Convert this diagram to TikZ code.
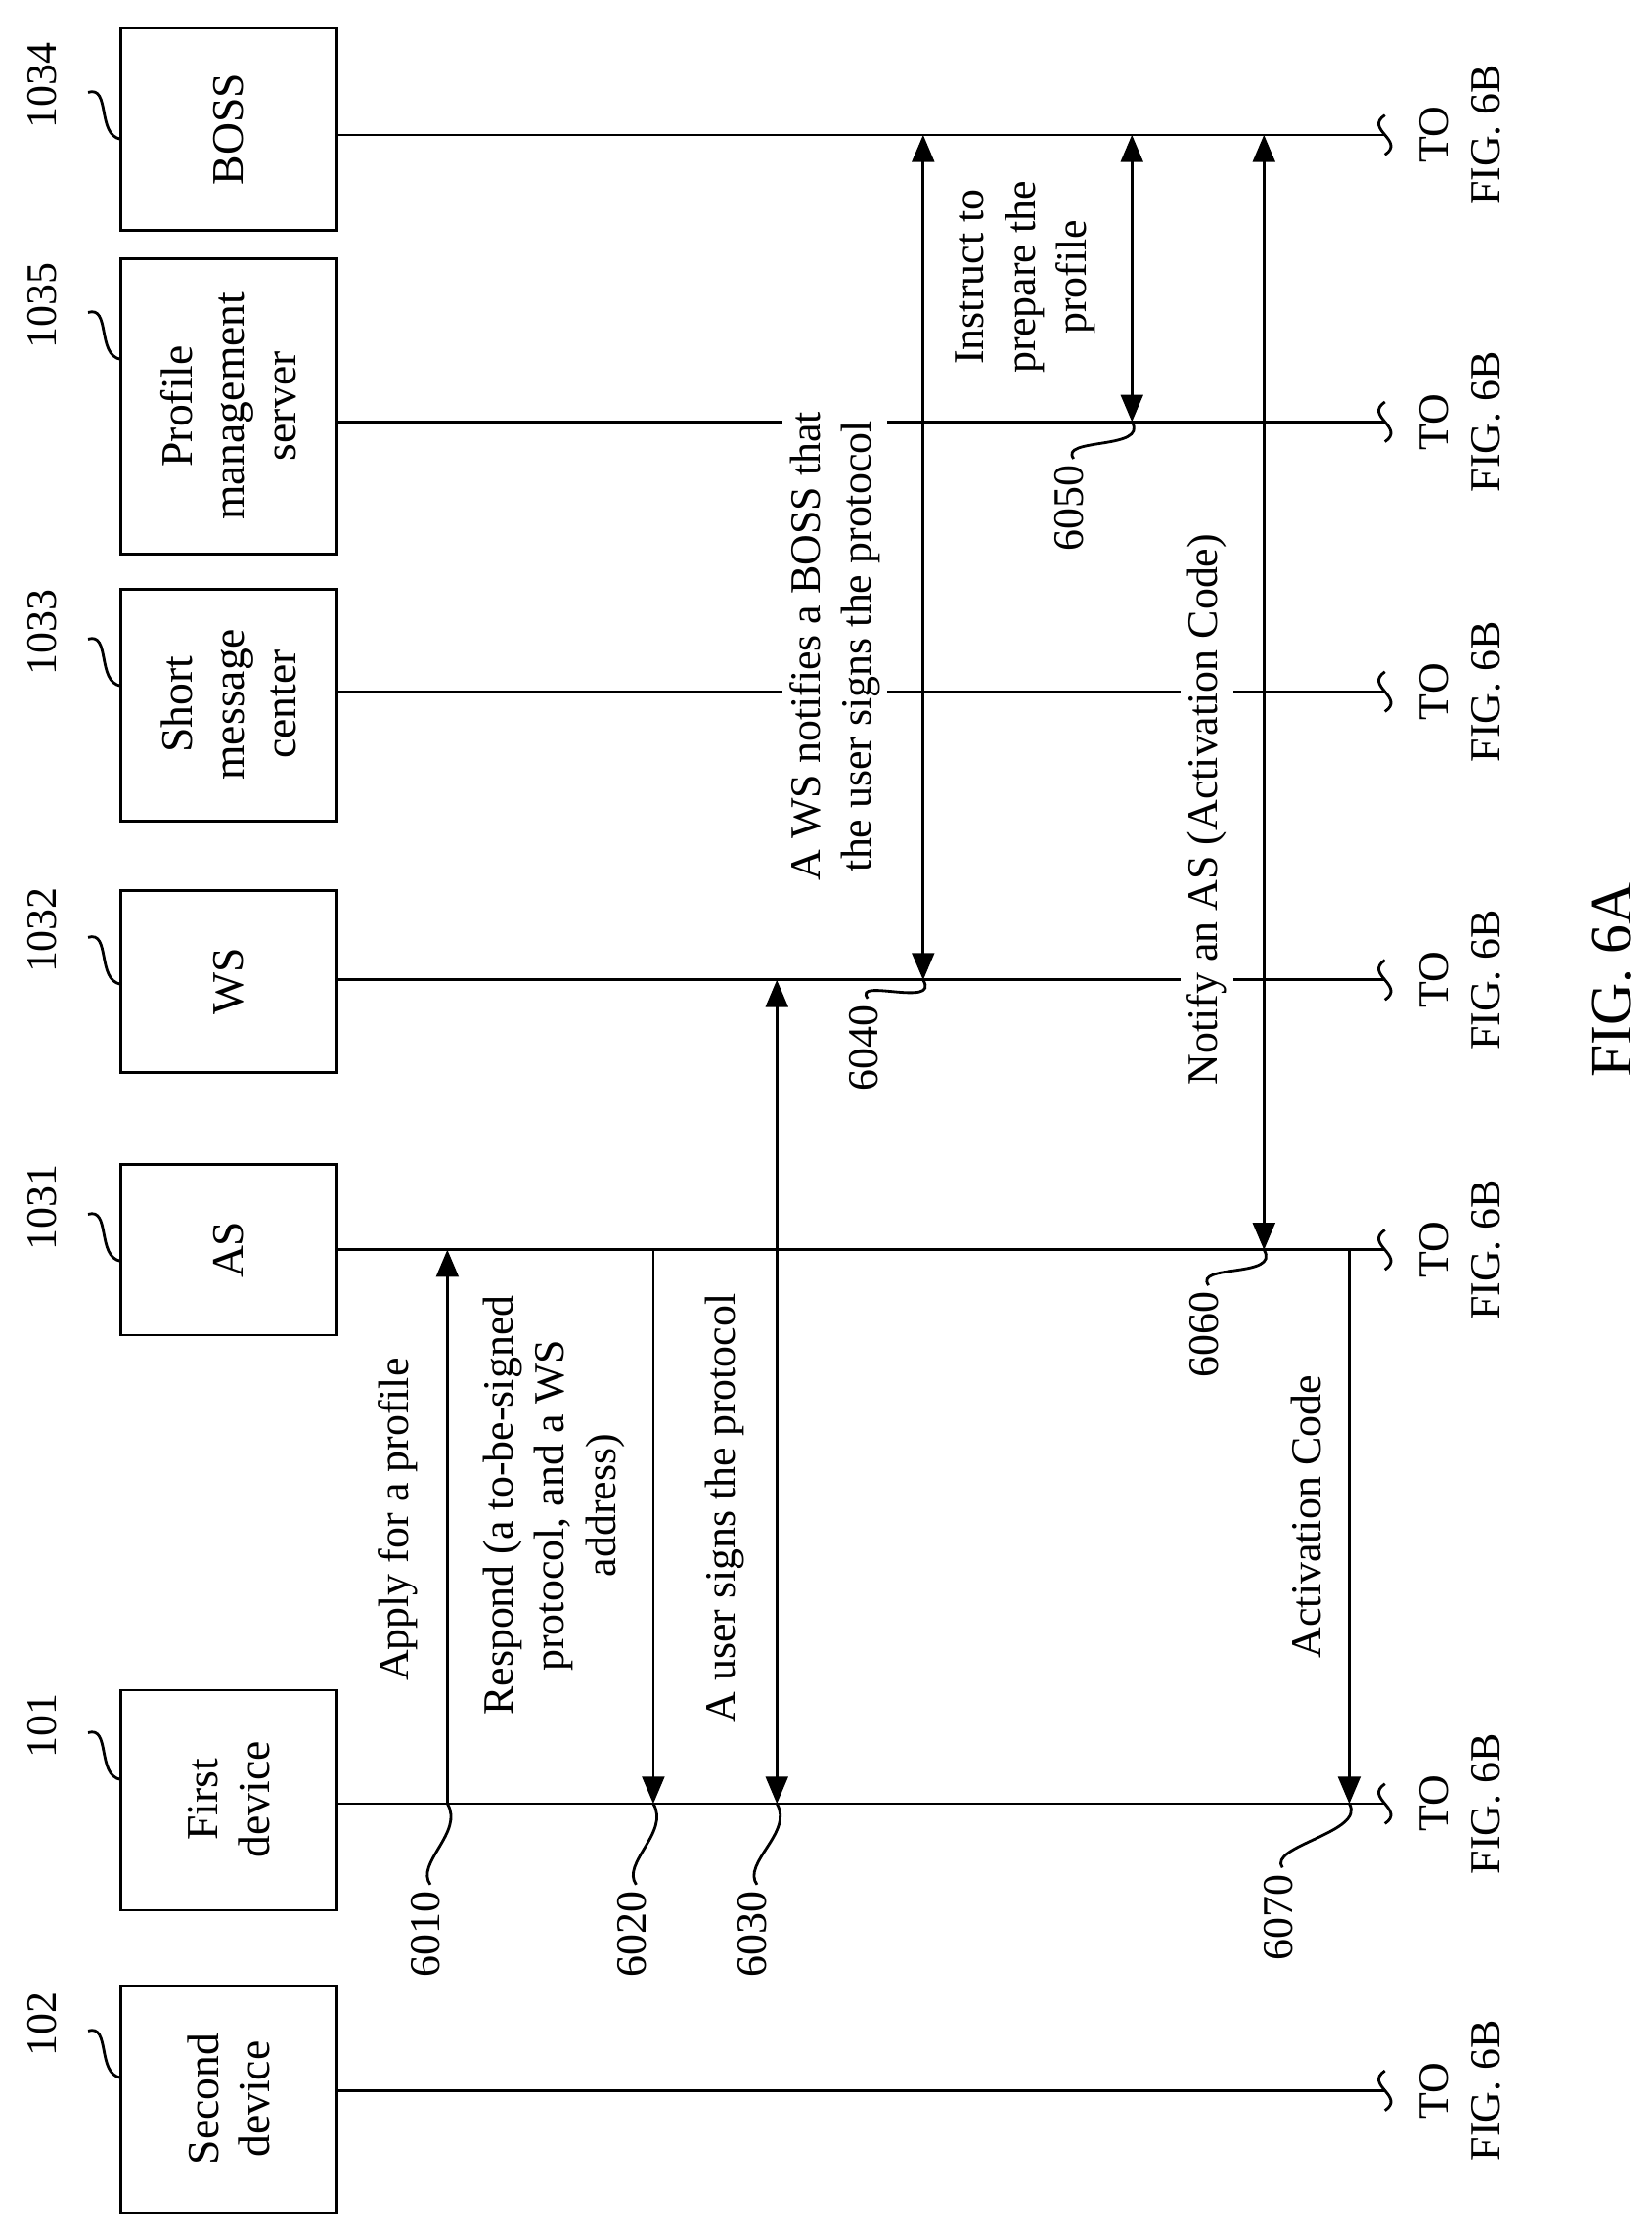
\documentclass[tikz,border=0pt]{standalone}
\usepackage{fontspec}
\setmainfont{Liberation Serif}
\usetikzlibrary{arrows,positioning,calc}
\tikzset{
    entity/.style={
        rectangle,
        rotate=90,
        align=center,
        font=\fontsize{13}{15}\selectfont,
    },
    msg/.style={
        rotate=90,
        align=center,
        fill=white,
        inner sep=2pt,
        font=\fontsize{12.5}{15}\selectfont,
    },
    refnum/.style={
        rotate=90,
        font=\fontsize{12.5}{15}\selectfont,
    },
    oneway/.style={
        draw,
        thick,
        ->,>=triangle 45,
    },
    twoway/.style={
        draw,
        thick,
        <->,>=triangle 45,
    },
}
\newcommand{\entityline}[4]{% y, top, bottom, name
    \draw[thick] (85,#2) rectangle (237,#3);
    \coordinate (#4-s) at (237,#1);
    \coordinate (#4-e) at (975,#1);
    \draw[thick] (975,#1-14) .. controls (960,#1-4) and (990,#1+4) .. (975,#1+14);
    \node[refnum, align=center] at (1028,#1) {TO\\FIG. 6B};
}
\begin{document}
\begin{tikzpicture}[x=0.01452cm,y=-0.01452cm]
\useasboundingbox (0,0) rectangle (1163,1573);

% boxes and lifelines
\entityline{95}{20}{162}{boss}
\entityline{297}{182}{390}{pms}
\entityline{487}{415}{578}{smc}
\entityline{690}{627}{755}{ws}
\entityline{880}{820}{940}{as}
\entityline{1270}{1190}{1345}{fd}
\entityline{1472}{1398}{1558}{sd}

\node[entity] (bossN) at (161,91) {BOSS};
\node[entity] (pmsN) at (161,286) {Profile\\management\\server};
\node[entity] (smcN) at (161,496) {Short\\message\\center};
\node[entity] (wsN) at (161,691) {WS};
\node[entity] (asN) at (161,880) {AS};
\node[entity] (fdN) at (161,1267) {First\\device};
\node[entity] (sdN) at (161,1478) {Second\\device};

\foreach \n in {boss,pms,smc,ws,as,fd,sd}
    \draw[thick] (\n-s) -- (\n-e);

% box reference numbers
\foreach \num/\y in {1034/60,1035/215,1033/445,1032/655,1031/850,101/1215,102/1425}{
    \node[refnum] at (30,\y) {\num};
    \draw[thick] (62,\y+5) .. controls (78,\y) and (68,\y+35) .. (85,\y+38);
}

% messages
\coordinate (a1) at (315,1270); \coordinate (a1t) at (315,880);
\draw[oneway] (a1) -- (a1t);
\node[msg] at (280,1070) {Apply for a profile};

\coordinate (a2) at (460,880); \coordinate (a2t) at (460,1270);
\draw[oneway] (a2) -- (a2t);
\node[msg] at (390,1060) {Respond (a to-be-signed\\protocol, and a WS\\address)};

\coordinate (a3) at (547,1270); \coordinate (a3t) at (547,690);
\draw[twoway] (a3) -- (a3t);
\node[msg] at (510,1062) {A user signs the protocol};

\coordinate (a4) at (650,690); \coordinate (a4t) at (650,95);
\draw[twoway] (a4) -- (a4t);
\node[msg] at (588,455) {A WS notifies a BOSS that\\the user signs the protocol};

\coordinate (a5) at (797,297); \coordinate (a5t) at (797,95);
\draw[twoway] (a5) -- (a5t);
\node[msg] at (722,195) {Instruct to\\prepare the\\profile};

\coordinate (a6) at (890,880); \coordinate (a6t) at (890,95);
\draw[twoway] (a6) -- (a6t);
\node[msg] at (850,570) {Notify an AS (Activation Code)};

\coordinate (a7) at (950,880); \coordinate (a7t) at (950,1270);
\draw[oneway] (a7) -- (a7t);
\node[msg] at (920,1068) {Activation Code};

% step numbers
\foreach \num/\jx/\jy/\tx/\ty in {6010/315/1270/300/1362,6020/460/1270/445/1362,6030/547/1270/530/1362,
    6040/650/690/608/738,6050/797/297/753/358,6060/890/880/848/940,6070/950/1270/900/1350}{
    \node[refnum] at (\tx,\ty) {\num};
    \draw[thick] (\jx,\jy) .. controls (\jx+12,\jy+20) and (\tx-8,\ty-50) .. (\tx+3,\ty-35);
}

\node[rotate=90, font=\fontsize{17}{20}\selectfont] at (1135,690) {FIG. 6A};
\end{tikzpicture}
\end{document}
